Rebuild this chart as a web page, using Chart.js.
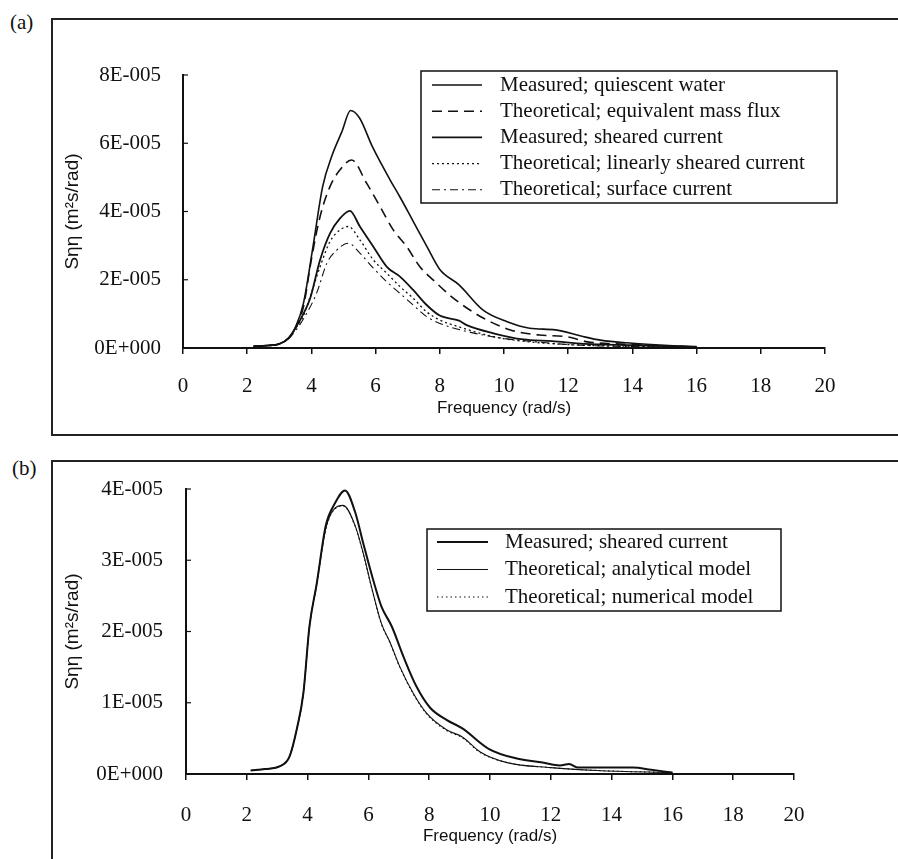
<!DOCTYPE html>
<html>
<head>
<meta charset="utf-8">
<script src="https://cdn.jsdelivr.net/npm/chart.js@4.4.1/dist/chart.umd.min.js"></script>
<style>
  body { margin: 0; background: #fff; width: 898px; height: 859px; overflow: hidden; position: relative; }
  .frame { position: absolute; border-left: 2px solid #222; border-top: 2px solid #222; }
  #frameA { left: 51px; top: 18px; width: 900px; height: 414px; border-bottom: 2px solid #222; }
  #frameB { left: 51px; top: 460px; width: 900px; height: 420px; }
  .tag { position: absolute; font: 21px 'Liberation Serif', 'Times New Roman', serif; color: #111; }
  canvas { position: absolute; left: 0; }
</style>
</head>
<body>
<div class="frame" id="frameA"></div>
<div class="frame" id="frameB"></div>
<div class="tag" style="left:10px; top:10px;">(a)</div>
<div class="tag" style="left:12px; top:456px;">(b)</div>
<canvas id="chartA" width="898" height="440" style="top:0"></canvas>
<canvas id="chartB" width="898" height="419" style="top:440px"></canvas>
<script>
// values are in units of 1E-005 m2s/rad, frequency in rad/s

// ---- panel (a)
const yTicksA = ['0E+000', '2E-005', '4E-005', '6E-005', '8E-005'];
const xTicks = ['0', '2', '4', '6', '8', '10', '12', '14', '16', '18', '20'];

const quiescentF = [2.2, 2.6, 3.0, 3.3, 3.5, 3.75, 4.05, 4.35, 4.65, 4.95, 5.22, 5.5, 5.9, 6.45, 6.75, 7.15, 7.6, 8.0, 8.6, 9.35, 10.1, 10.8, 11.6, 12.4, 13.0, 14.0, 15.0, 16.0];
const quiescentS = [0.05, 0.07, 0.12, 0.3, 0.6, 1.3, 2.97, 4.73, 5.66, 6.34, 6.96, 6.74, 5.9, 4.93, 4.44, 3.75, 2.97, 2.3, 1.85, 1.11, 0.77, 0.58, 0.53, 0.35, 0.23, 0.14, 0.08, 0.04];

const massFluxF = [2.2, 2.6, 3.0, 3.3, 3.5, 3.75, 4.0, 4.27, 4.58, 4.89, 5.25, 5.72, 6.14, 6.55, 6.97, 7.38, 7.8, 8.45, 9.35, 10.2, 11.1, 11.95, 12.6, 13.5, 14.5, 16.0];
const massFluxS = [0.05, 0.07, 0.12, 0.3, 0.58, 1.2, 2.6, 3.85, 4.73, 5.22, 5.51, 4.83, 4.14, 3.46, 2.97, 2.38, 1.99, 1.44, 0.88, 0.53, 0.38, 0.33, 0.18, 0.12, 0.08, 0.03];

const shearedF = [2.2, 2.6, 3.0, 3.3, 3.5, 3.75, 3.96, 4.27, 4.58, 4.89, 5.2, 5.51, 5.93, 6.35, 6.76, 7.17, 7.59, 8.0, 8.6, 8.84, 9.67, 10.6, 11.5, 12.5, 14.0, 16.0];
const shearedS = [0.05, 0.07, 0.12, 0.3, 0.58, 1.0, 1.45, 2.58, 3.36, 3.8, 4.02, 3.56, 2.97, 2.38, 2.09, 1.7, 1.26, 0.95, 0.8, 0.67, 0.43, 0.25, 0.2, 0.12, 0.08, 0.03];

const linearF = [2.2, 2.6, 3.0, 3.3, 3.5, 3.75, 3.96, 4.27, 4.58, 4.89, 5.15, 5.51, 5.93, 6.35, 6.76, 7.17, 7.59, 8.0, 8.6, 9.67, 10.6, 12.0, 14.0, 16.0];
const linearS = [0.05, 0.07, 0.12, 0.3, 0.56, 0.95, 1.5, 2.38, 3.12, 3.46, 3.56, 3.17, 2.58, 2.19, 1.8, 1.46, 1.06, 0.82, 0.62, 0.33, 0.2, 0.1, 0.05, 0.02];

const surfaceF = [2.2, 2.6, 3.0, 3.3, 3.5, 3.75, 4.16, 4.48, 4.79, 5.15, 5.51, 5.93, 6.35, 6.76, 7.17, 7.59, 8.0, 9.0, 10.0, 11.0, 12.0, 13.0, 14.0, 16.0];
const surfaceS = [0.05, 0.07, 0.12, 0.28, 0.5, 0.85, 1.6, 2.48, 2.87, 3.07, 2.78, 2.34, 1.94, 1.6, 1.26, 0.92, 0.72, 0.45, 0.28, 0.18, 0.1, 0.06, 0.04, 0.02];

// ---- panel (b)
const yTicksB = ['0E+000', '1E-005', '2E-005', '3E-005', '4E-005'];

const measuredBF = [2.13, 2.6, 3.09, 3.4, 3.66, 3.86, 4.06, 4.3, 4.6, 4.9, 5.23, 5.56, 5.83, 6.16, 6.43, 6.77, 7.15, 7.59, 8.03, 8.57, 9.09, 9.97, 10.85, 11.73, 12.3, 12.6, 12.9, 13.5, 14.7, 15.3, 16.0];
const measuredBS = [0.05, 0.07, 0.11, 0.24, 0.66, 1.13, 2.07, 2.67, 3.49, 3.8, 3.98, 3.68, 3.24, 2.72, 2.35, 2.07, 1.65, 1.22, 0.93, 0.76, 0.64, 0.35, 0.22, 0.16, 0.12, 0.14, 0.09, 0.09, 0.09, 0.06, 0.02];

const modelF = [2.13, 2.6, 3.09, 3.4, 3.66, 3.86, 4.06, 4.3, 4.6, 4.9, 5.17, 5.56, 5.83, 6.1, 6.43, 6.7, 7.04, 7.48, 7.92, 8.57, 9.09, 9.68, 10.56, 12.0, 13.5, 16.0];
const analyticalS = [0.05, 0.07, 0.11, 0.24, 0.66, 1.13, 2.07, 2.67, 3.45, 3.73, 3.77, 3.49, 3.1, 2.63, 2.11, 1.86, 1.5, 1.13, 0.85, 0.62, 0.52, 0.31, 0.16, 0.09, 0.05, 0.02];
const numericalS = [0.05, 0.07, 0.11, 0.24, 0.65, 1.12, 2.05, 2.66, 3.44, 3.72, 3.76, 3.48, 3.09, 2.62, 2.1, 1.85, 1.49, 1.12, 0.84, 0.61, 0.51, 0.3, 0.16, 0.09, 0.05, 0.02];

const INK = '#111';
const SERIF = "'Liberation Serif', 'Times New Roman', serif";
const SANS = "'Liberation Sans', Arial, sans-serif";

const pts = (fs, ss) => fs.map((f, i) => ({ x: f, y: ss[i] }));

function line(label, fs, ss, width, dash) {
  return {
    label: label,
    data: pts(fs, ss),
    borderColor: INK,
    borderWidth: width,
    borderDash: dash,
    pointRadius: 0,
    cubicInterpolationMode: 'monotone',
    fill: false
  };
}

// framed legend drawn inside the plot, like the original figure
const boxLegend = {
  id: 'boxLegend',
  afterDraw(chart, args, o) {
    const ctx = chart.ctx;
    ctx.save();
    ctx.strokeStyle = INK;
    ctx.lineWidth = 1.5;
    ctx.setLineDash([]);
    ctx.strokeRect(o.left, o.top, o.width, o.height);
    ctx.font = o.font;
    ctx.fillStyle = INK;
    ctx.textBaseline = 'middle';
    chart.data.datasets.forEach((ds, i) => {
      const y = o.firstRow + i * o.rowGap;
      ctx.beginPath();
      ctx.setLineDash(ds.borderDash || []);
      ctx.lineWidth = ds.borderWidth;
      ctx.moveTo(o.sampleLeft, y);
      ctx.lineTo(o.sampleRight, y);
      ctx.stroke();
      ctx.setLineDash([]);
      ctx.fillText(ds.label, o.textLeft, y);
    });
    ctx.restore();
  }
};

// the y ticks of the original point into the plot
const innerTicks = {
  id: 'innerTicks',
  afterDraw(chart) {
    const ctx = chart.ctx;
    const ys = chart.scales.y;
    const left = chart.chartArea.left;
    ctx.save();
    ctx.strokeStyle = INK;
    ctx.lineWidth = 1.2;
    ys.ticks.forEach(t => {
      const py = ys.getPixelForValue(t.value);
      ctx.beginPath();
      ctx.moveTo(left, py);
      ctx.lineTo(left + 5, py);
      ctx.stroke();
    });
    ctx.restore();
  }
};

function options(cfg) {
  return {
    responsive: false,
    animation: false,
    layout: { padding: cfg.padding },
    plugins: {
      legend: { display: false },
      tooltip: { enabled: false },
      boxLegend: cfg.legend
    },
    scales: {
      x: {
        type: 'linear',
        min: 0,
        max: 20,
        afterFit: s => { s.height = cfg.xHeight; },
        ticks: {
          stepSize: 2,
          color: INK,
          font: { family: SERIF, size: 21 },
          padding: cfg.xPad,
          maxRotation: 0,
          callback: (v, i) => xTicks[i]
        },
        grid: { drawOnChartArea: false, drawTicks: true, tickLength: 6, color: INK, lineWidth: 1.5 },
        border: { display: true, color: INK, width: 2 },
        title: {
          display: true,
          text: 'Frequency (rad/s)',
          color: INK,
          font: { family: SANS, size: 17 },
          padding: { top: 0, bottom: cfg.xTitlePad }
        }
      },
      y: {
        min: 0,
        max: cfg.yMax,
        afterFit: s => { s.width = cfg.yWidth; },
        ticks: {
          stepSize: cfg.yStep,
          color: INK,
          font: { family: SERIF, size: 21 },
          padding: cfg.yPad,
          callback: (v, i) => cfg.yLabels[i]
        },
        grid: { drawOnChartArea: false, drawTicks: false },
        border: { display: true, color: INK, width: 2 },
        title: {
          display: true,
          text: 'S\u03B7\u03B7 (m\u00B2s/rad)',
          color: INK,
          font: { family: SANS, size: 19 },
          padding: { top: 4, bottom: 0 }
        }
      }
    }
  };
}

new Chart(document.getElementById('chartA'), {
  type: 'line',
  data: {
    datasets: [
      line('Measured; quiescent water', quiescentF, quiescentS, 1.6, []),
      line('Theoretical; equivalent mass flux', massFluxF, massFluxS, 1.6, [10, 6]),
      line('Measured; sheared current', shearedF, shearedS, 1.8, []),
      line('Theoretical; linearly sheared current', linearF, linearS, 1.3, [2, 3]),
      line('Theoretical; surface current', surfaceF, surfaceS, 1.1, [8, 4, 2, 4])
    ]
  },
  options: options({
    padding: { left: 57, top: 75, right: 73, bottom: 0 },
    yWidth: 126, yMax: 8, yStep: 2, yLabels: yTicksA, yPad: 22,
    xHeight: 92, xPad: 20, xTitlePad: 21,
    legend: {
      left: 421, top: 71, width: 416, height: 132,
      firstRow: 85, rowGap: 26.2,
      sampleLeft: 432, sampleRight: 482, textLeft: 500,
      font: '21px ' + SERIF
    }
  }),
  plugins: [boxLegend, innerTicks]
});

new Chart(document.getElementById('chartB'), {
  type: 'line',
  data: {
    datasets: [
      line('Measured; sheared current', measuredBF, measuredBS, 2, []),
      line('Theoretical; analytical model', modelF, analyticalS, 1.1, []),
      line('Theoretical; numerical model', modelF, numericalS, 1.1, [1.5, 3])
    ]
  },
  options: options({
    padding: { left: 57, top: 49, right: 104, bottom: 0 },
    yWidth: 129, yMax: 4, yStep: 1, yLabels: yTicksB, yPad: 23,
    xHeight: 85, xPad: 23, xTitlePad: 12,
    legend: {
      left: 427, top: 89, width: 354, height: 82,
      firstRow: 102, rowGap: 27.5,
      sampleLeft: 437, sampleRight: 488, textLeft: 505,
      font: '21px ' + SERIF
    }
  }),
  plugins: [boxLegend, innerTicks]
});
</script>
</body>
</html>
